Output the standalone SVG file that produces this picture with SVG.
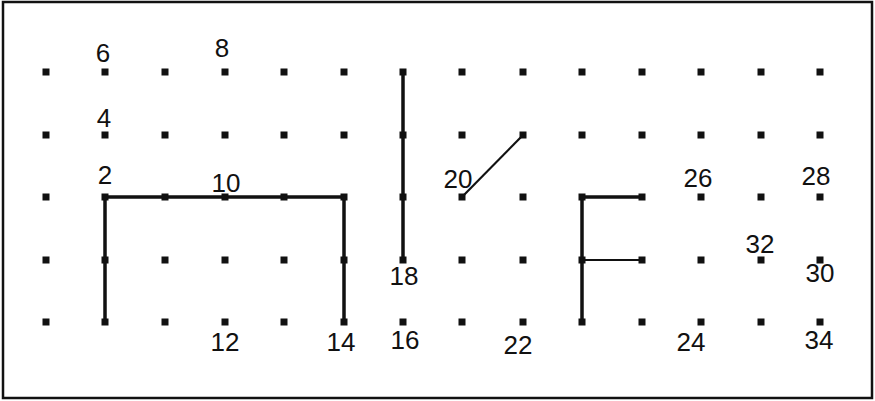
<svg xmlns="http://www.w3.org/2000/svg" width="875" height="401" viewBox="0 0 875 401">
<style>
.lbl{font-family:"Liberation Sans",Arial,sans-serif;font-size:26px;fill:#111;text-anchor:middle}
.ln{stroke:#111;stroke-width:3.5;fill:none;stroke-linecap:square;stroke-linejoin:miter}
.thin{stroke-width:2.2}
.dot{fill:#111}
</style>
<defs>
<rect id="d" x="-3.5" y="-3.5" width="7" height="7" class="dot"/>
</defs>
<rect x="3" y="2" width="869" height="396" fill="#fff" stroke="#111" stroke-width="2.5"/>
<g id="grid">
<use href="#d" x="46" y="72"/><use href="#d" x="105" y="72"/><use href="#d" x="165" y="72"/><use href="#d" x="225" y="72"/><use href="#d" x="284" y="72"/><use href="#d" x="344" y="72"/><use href="#d" x="403" y="72"/><use href="#d" x="462" y="72"/><use href="#d" x="523" y="72"/><use href="#d" x="582" y="72"/><use href="#d" x="642" y="72"/><use href="#d" x="701" y="72"/><use href="#d" x="761" y="72"/><use href="#d" x="820" y="72"/>
<use href="#d" x="46" y="135"/><use href="#d" x="105" y="135"/><use href="#d" x="165" y="135"/><use href="#d" x="225" y="135"/><use href="#d" x="284" y="135"/><use href="#d" x="344" y="135"/><use href="#d" x="403" y="135"/><use href="#d" x="462" y="135"/><use href="#d" x="523" y="135"/><use href="#d" x="582" y="135"/><use href="#d" x="642" y="135"/><use href="#d" x="701" y="135"/><use href="#d" x="761" y="135"/><use href="#d" x="820" y="135"/>
<use href="#d" x="46" y="197"/><use href="#d" x="105" y="197"/><use href="#d" x="165" y="197"/><use href="#d" x="225" y="197"/><use href="#d" x="284" y="197"/><use href="#d" x="344" y="197"/><use href="#d" x="403" y="197"/><use href="#d" x="462" y="197"/><use href="#d" x="523" y="197"/><use href="#d" x="582" y="197"/><use href="#d" x="642" y="197"/><use href="#d" x="701" y="197"/><use href="#d" x="761" y="197"/><use href="#d" x="820" y="197"/>
<use href="#d" x="46" y="260"/><use href="#d" x="105" y="260"/><use href="#d" x="165" y="260"/><use href="#d" x="225" y="260"/><use href="#d" x="284" y="260"/><use href="#d" x="344" y="260"/><use href="#d" x="403" y="260"/><use href="#d" x="462" y="260"/><use href="#d" x="523" y="260"/><use href="#d" x="582" y="260"/><use href="#d" x="642" y="260"/><use href="#d" x="701" y="260"/><use href="#d" x="761" y="260"/><use href="#d" x="820" y="260"/>
<use href="#d" x="46" y="322"/><use href="#d" x="105" y="322"/><use href="#d" x="165" y="322"/><use href="#d" x="225" y="322"/><use href="#d" x="284" y="322"/><use href="#d" x="344" y="322"/><use href="#d" x="403" y="322"/><use href="#d" x="462" y="322"/><use href="#d" x="523" y="322"/><use href="#d" x="582" y="322"/><use href="#d" x="642" y="322"/><use href="#d" x="701" y="322"/><use href="#d" x="761" y="322"/><use href="#d" x="820" y="322"/>
</g>
<g id="connectors">
<path class="ln" d="M105,322 V197 H344 V322"/>
<path class="ln" d="M403,72 V260"/>
<path class="ln thin" d="M462,197 L523,135"/>
<path class="ln" d="M582,322 V197 H642"/>
<path class="ln thin" d="M582,260 H642"/>
</g>
<g id="labels">
<text class="lbl" x="103" y="62">6</text>
<text class="lbl" x="222" y="57">8</text>
<text class="lbl" x="104" y="127">4</text>
<text class="lbl" x="105" y="184">2</text>
<text class="lbl" x="226" y="192">10</text>
<text class="lbl" x="225" y="351">12</text>
<text class="lbl" x="341" y="351">14</text>
<text class="lbl" x="405" y="349">16</text>
<text class="lbl" x="404" y="285">18</text>
<text class="lbl" x="458" y="188">20</text>
<text class="lbl" x="518" y="354">22</text>
<text class="lbl" x="691" y="351">24</text>
<text class="lbl" x="698" y="187">26</text>
<text class="lbl" x="816" y="185">28</text>
<text class="lbl" x="820" y="282">30</text>
<text class="lbl" x="760" y="253">32</text>
<text class="lbl" x="819" y="349">34</text>
</g>
</svg>
